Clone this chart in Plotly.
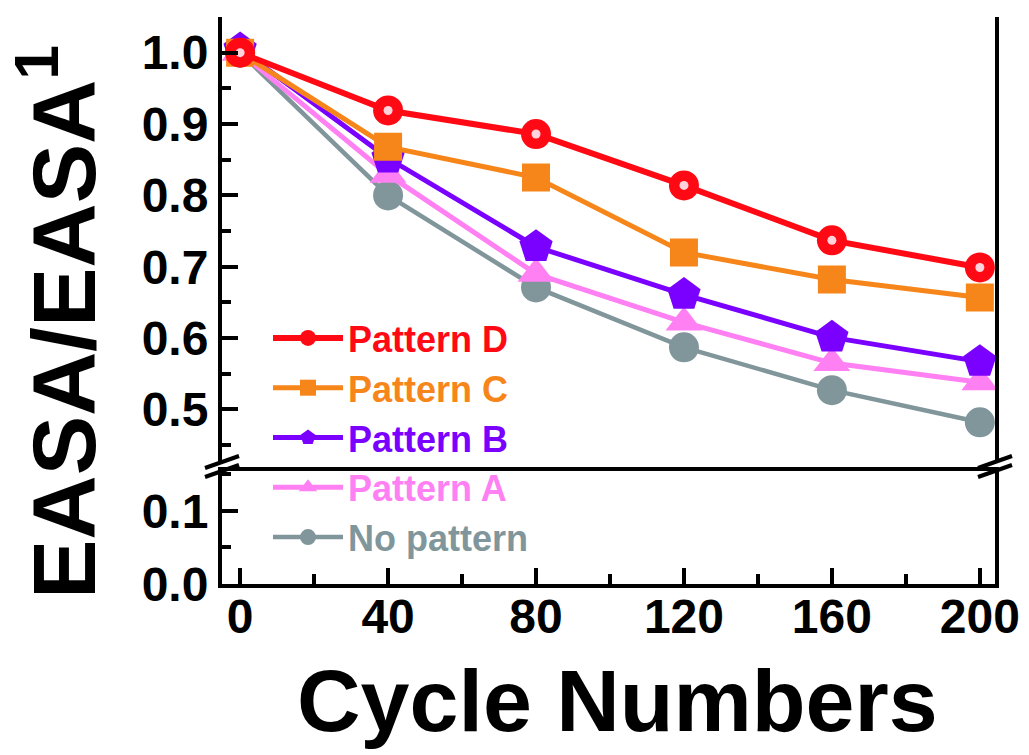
import plotly.graph_objects as go

# ---- data ----
cycles = [0, 40, 80, 120, 160, 200]
pattern_d = [1.000, 0.919, 0.886, 0.814, 0.737, 0.699]
pattern_c = [1.000, 0.868, 0.825, 0.720, 0.682, 0.657]
pattern_b = [1.005, 0.852, 0.728, 0.661, 0.601, 0.567]
pattern_a = [1.000, 0.829, 0.690, 0.622, 0.565, 0.538]
no_pattern = [1.000, 0.800, 0.671, 0.587, 0.527, 0.482]

x_ticks = [0, 40, 80, 120, 160, 200]
y_top_ticks = [0.5, 0.6, 0.7, 0.8, 0.9, 1.0]
y_bot_ticks = [0.0, 0.1]

OFF = 8  # default page body margin
W, H = 1029 - OFF, 755 - OFF
L, R, T, B = 222, 995, 17, 584  # plot area in page px


def px(xp):
    return (xp - L) / (R - L)


def py(yp):
    return (B - yp) / (B - T)


FONT = "Liberation Sans, Arial, sans-serif"

series = [
    ("No pattern", no_pattern, "#80969B", "circle", 30, 4.5),
    ("Pattern A", pattern_a, "#FF80F2", "triangle-up", 32, 5),
    ("Pattern B", pattern_b, "#7A00FF", "pentagon", 35, 5),
    ("Pattern C", pattern_c, "#F7861A", "square", 28, 5),
    ("Pattern D", pattern_d, "#FF0A14", "circle", 30, 6),
]

fig = go.Figure()
# empty trace so the lower (0.0-0.1) axis segment gets its own subplot
fig.add_trace(go.Scatter(x=[], y=[], yaxis="y", showlegend=False,
                         hoverinfo="skip"))
for name, vals, col, sym, size, lw in series:
    fig.add_trace(go.Scatter(
        x=cycles, y=vals, yaxis="y2", mode="lines+markers",
        name=f'<span style="color:{col}">{name}</span>',
        line=dict(color=col, width=lw),
        marker=dict(color=col, symbol=sym, size=size, line=dict(width=0)),
    ))
# highlight spots on the Pattern D spheres
fig.add_trace(go.Scatter(
    x=cycles, y=pattern_d, yaxis="y2", mode="markers", showlegend=False,
    hoverinfo="skip",
    marker=dict(color="#FFD2DC", size=9, line=dict(width=0)),
))

axis_common = dict(
    showline=True, linecolor="black", linewidth=4, mirror=True,
    ticks="inside", tickcolor="black", tickwidth=4, ticklen=16,
    showgrid=False, zeroline=False,
    tickfont=dict(family=FONT, size=48, color="black", weight="bold"),
)

gap_lo, gap_hi = 0.200, 0.216

fig.update_layout(
    width=W, height=H,
    margin=dict(l=L - OFF, r=W - (R - OFF), t=T - OFF, b=H - (B - OFF)),
    plot_bgcolor="white", paper_bgcolor="white",
    xaxis=dict(
        range=[-4.9, 204.1], tickvals=x_ticks, anchor="y",
        ticklabelstandoff=-13,
        minor=dict(tickvals=[20, 60, 100, 140, 180], ticklen=10, tickwidth=4,
                   tickcolor="black", ticks="inside"),
        **axis_common,
    ),
    yaxis=dict(
        domain=[0, gap_lo], range=[0, 0.155], tickvals=y_bot_ticks,
        tickformat=".1f", anchor="x",
        minor=dict(tickvals=[0.05, 0.15], ticklen=9, tickwidth=4,
                   tickcolor="black", ticks="inside"),
        **axis_common,
    ),
    yaxis2=dict(
        domain=[gap_hi, 1], range=[0.427, 1.05], tickvals=y_top_ticks,
        tickformat=".1f", anchor="x",
        minor=dict(tickvals=[0.45, 0.55, 0.65, 0.75, 0.85, 0.95], ticklen=9,
                   tickwidth=4, tickcolor="black", ticks="inside"),
        **axis_common,
    ),
    showlegend=True,
    legend=dict(
        x=px(268), y=py(308), xanchor="left", yanchor="top",
        traceorder="reversed", bgcolor="rgba(0,0,0,0)",
        font=dict(family=FONT, size=36, weight="bold"),
        itemwidth=70, tracegroupgap=0,
    ),
    annotations=[
        dict(text="Cycle Numbers", xref="paper", yref="paper",
             x=px(617), y=py(700), xanchor="center", yanchor="middle",
             showarrow=False,
             font=dict(family=FONT, size=88, color="black", weight="bold")),
        dict(text="EASA/EASA<sup>1</sup>", xref="paper", yref="paper",
             x=px(58), y=py(322), xanchor="center", yanchor="middle",
             textangle=-90, showarrow=False,
             font=dict(family=FONT, size=89, color="black", weight="bold")),
    ],
)

# axis break marks (double slashes) on left and right frame lines
shapes = []
for xc in (L, R):
    for yc in (462, 471):
        shapes.append(dict(type="line", xref="paper", yref="paper",
                           x0=px(xc - 17), y0=py(yc + 6),
                           x1=px(xc + 17), y1=py(yc - 6),
                           line=dict(color="black", width=4)))
fig.update_layout(shapes=shapes)

fig.write_html("out.html")
